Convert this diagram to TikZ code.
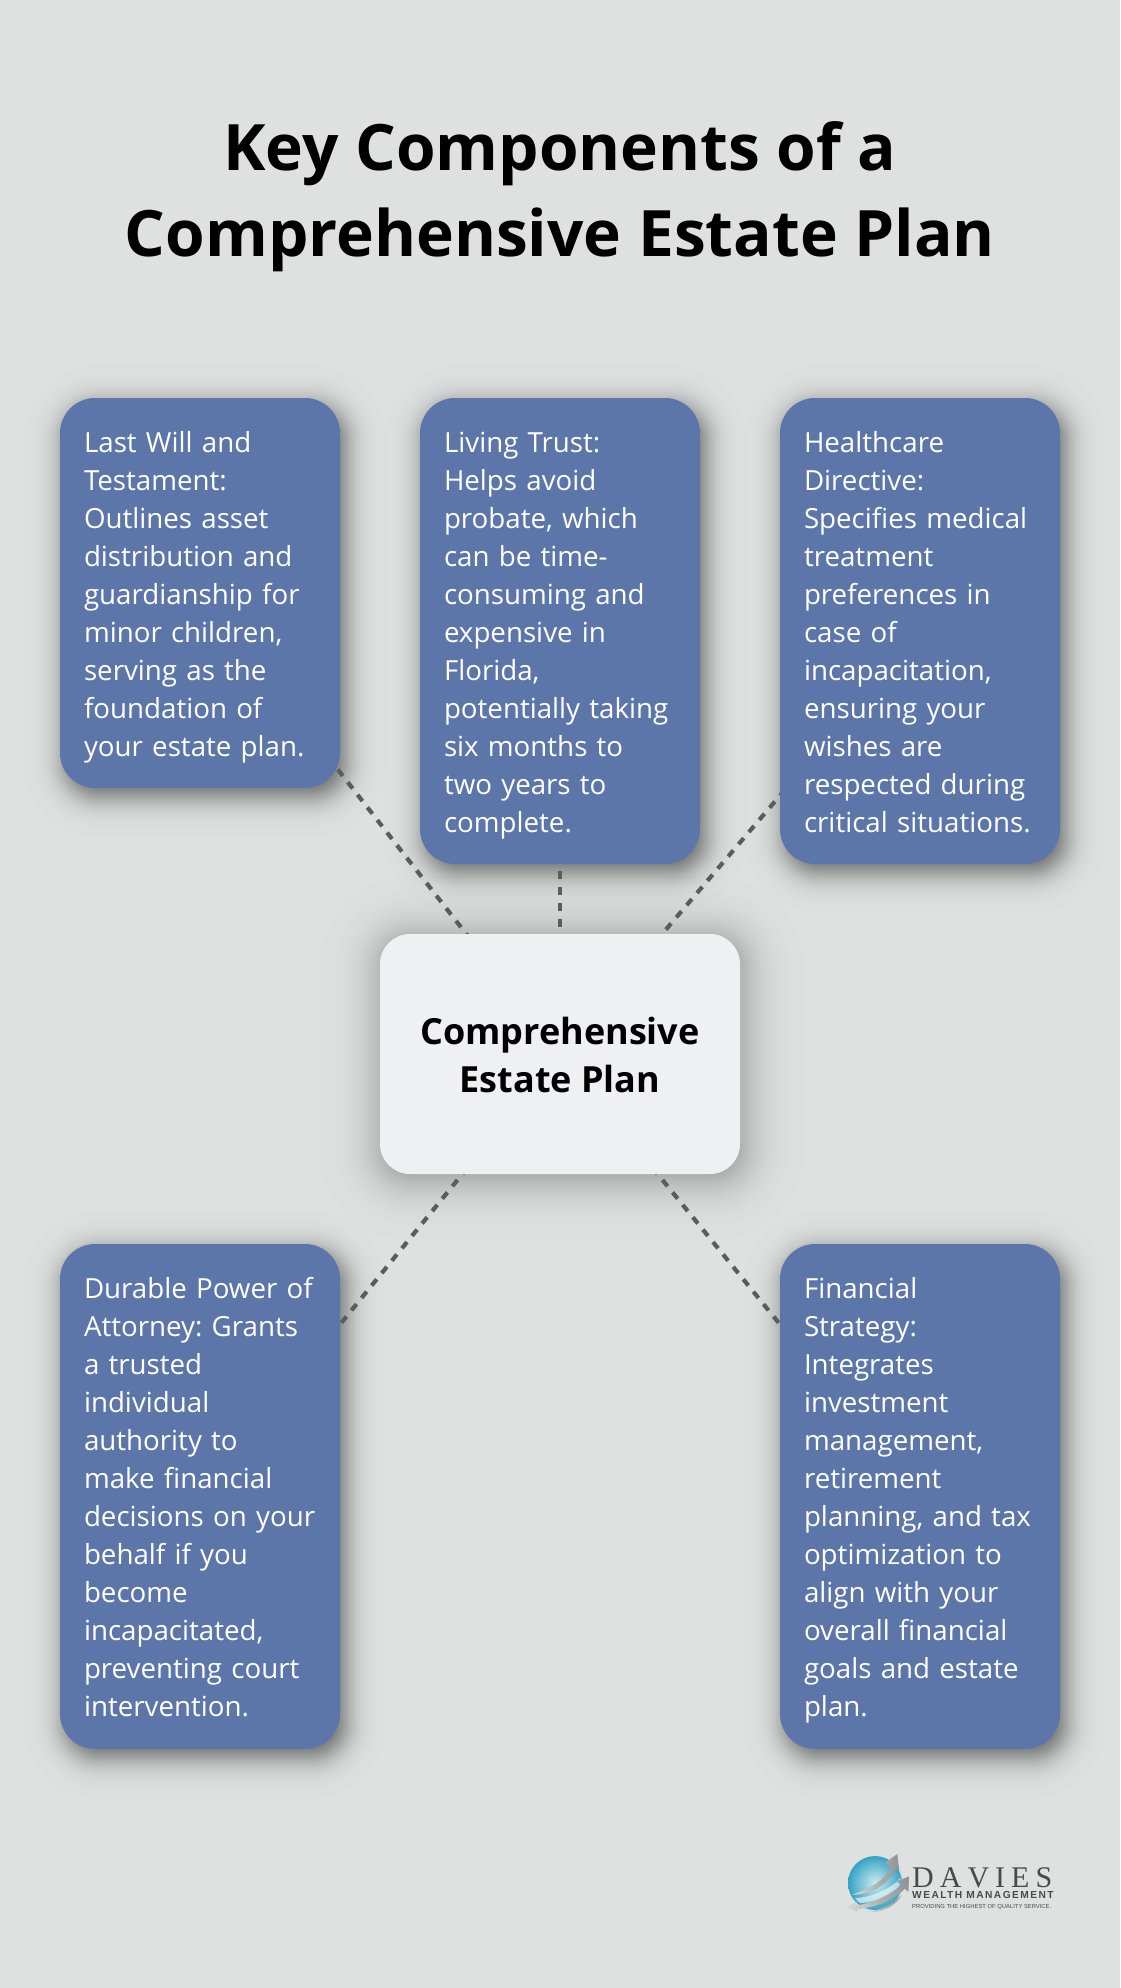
\documentclass[tikz,border=0pt]{standalone}
\usepackage{fontspec}
\setmainfont{Open Sans}
\newfontfamily\logoserif{Liberation Serif}
\newfontfamily\logosans[LetterSpace=14]{Liberation Sans}
\newfontfamily\logotag{Liberation Sans}
\definecolor{pagebg}{HTML}{DFE1E1}
\definecolor{boxblue}{HTML}{5D76A9}
\definecolor{boxlight}{HTML}{EFF0F2}
\definecolor{conncol}{HTML}{5C5C5C}
\definecolor{logogray}{HTML}{4A4A4A}
\definecolor{bandlight}{HTML}{D6D8DA}
\definecolor{banddark}{HTML}{8F9294}
\definecolor{globein}{HTML}{CDEBF1}
\definecolor{globeout}{HTML}{35A3C4}
\pgfdeclarelayer{under}
\pgfdeclarelayer{lines}
\pgfsetlayers{under,lines,main}
\tikzset{
  bluebox/.style={rectangle,fill=boxblue,text=white,rounded corners=35pt,inner xsep=24pt,inner ysep=0pt,
    minimum width=280pt,text width=232pt,align=left,font=\frenchspacing\fontsize{27.7}{38}\selectfont},
  hubbox/.style={rectangle,fill=boxlight,text=black,rounded corners=30pt,inner sep=0pt,
    minimum width=360pt,minimum height=240pt,align=center,font=\fontsize{36}{48}\selectfont\bfseries},
  titletext/.style={inner sep=0pt,align=center,text=black,font=\fontsize{64}{86}\selectfont\bfseries},
  conn/.style={draw=conncol,line width=4.2pt,dash pattern=on 8pt off 8pt},
  band/.style={left color=bandlight,right color=banddark,draw=none}
}
\newcommand{\bt}[1]{\rule{0pt}{31.5pt}#1\rule[-8.6pt]{0pt}{8.6pt}}
\newcommand{\hb}[1]{\rule{0pt}{38pt}#1\rule[-10pt]{0pt}{10pt}}
% centre x, centre y, half width, half height, radius, spread, layer opacity, dx, dy
\newcommand{\shadowlayers}{64}
\newcommand{\softshadow}[9]{%
  \foreach \ii in {1,...,\shadowlayers}{%
    \pgfmathsetmacro{\pp}{(\ii-0.5)/\shadowlayers}
    \pgfmathsetmacro{\ee}{#6*ln(\pp/(1-\pp))}
    \pgfmathsetmacro{\rr}{max(#5+\ee,0.1)}
    \fill[black,opacity=#7,rounded corners=\rr pt]
      (#1+#8-#3-\ee,#2+#9-#4-\ee) rectangle (#1+#8+#3+\ee,#2+#9+#4+\ee);
  }%
}
\begin{document}
\begin{tikzpicture}[x=1pt,y=-1pt]
\useasboundingbox (0,0) rectangle (1120,1988);
\begin{pgfonlayer}{under}
  \fill[pagebg] (0,0) rectangle (1120,1988);
  \softshadow{200}{593}{140}{195}{35}{8.5}{0.0068}{5}{8}
  \softshadow{560}{631}{140}{233}{35}{8.5}{0.0068}{5}{8}
  \softshadow{920}{631}{140}{233}{35}{8.5}{0.0068}{5}{8}
  \softshadow{200}{1496.5}{140}{252.5}{35}{8.5}{0.0068}{5}{8}
  \softshadow{920}{1496.5}{140}{252.5}{35}{8.5}{0.0068}{5}{8}
  \renewcommand{\shadowlayers}{44}
  \softshadow{560}{1054}{180}{120}{30}{14}{0.0065}{2}{4}
\end{pgfonlayer}

\node[titletext] (title) at (560,197) {Key Components of a\\Comprehensive Estate Plan};

\node[bluebox,minimum height=390pt] (will) at (200,593) {\bt{Last Will and\\Testament:\\Outlines asset\\distribution and\\guardianship for\\minor children,\\serving as the\\foundation of\\your estate plan.}};
\node[bluebox,minimum height=466pt] (trust) at (560,631) {\bt{Living Trust:\\Helps avoid\\probate, which\\can be time-\\consuming and\\expensive in\\Florida,\\potentially taking\\six months to\\two years to\\complete.}};
\node[bluebox,minimum height=466pt] (health) at (920,631) {\bt{Healthcare\\Directive:\\Specifies medical\\treatment\\preferences in\\case of\\incapacitation,\\ensuring your\\wishes are\\respected during\\critical situations.}};
\node[hubbox] (hub) at (560,1054) {\hb{Comprehensive\\Estate Plan}};
\node[bluebox,minimum height=505pt] (power) at (200,1496.5) {\bt{Durable Power of\\Attorney: Grants\\a trusted\\individual\\authority to\\make financial\\decisions on your\\behalf if you\\become\\incapacitated,\\preventing court\\intervention.}};
\node[bluebox,minimum height=505pt] (finance) at (920,1496.5) {\bt{Financial\\Strategy:\\Integrates\\investment\\management,\\retirement\\planning, and tax\\optimization to\\align with your\\overall financial\\goals and estate\\plan.}};

\begin{pgfonlayer}{lines}
  \draw[conn] (will.center) -- (hub.center);
  \draw[conn] (trust.center) -- (hub.center);
  \draw[conn] (health.center) -- (hub.center);
  \draw[conn] (power.center) -- (hub.center);
  \draw[conn] (finance.center) -- (hub.center);
\end{pgfonlayer}

% logo
\shade[inner color=globein,outer color=globeout] (875,1883) circle (27);
\begin{scope}[shift={(840,1848)},scale=1/3]
  \fill[white,opacity=.6] (45,150) .. controls (90,150) and (160,120) .. (180,90) -- (185,105) .. controls (160,140) and (100,165) .. (60,165) -- cycle;
  \shade[band] (35,140) .. controls (75,128) and (125,105) .. (153,60) -- (135,44) -- (172,18) -- (178,72) -- (167,62) .. controls (140,118) and (85,140) .. (35,140) -- cycle;
  \shade[band] (50,172) .. controls (100,165) and (150,140) .. (184,112) -- (170,100) -- (207,85) -- (205,132) -- (194,122) .. controls (160,160) and (100,178) .. (52,184) -- (52,192) -- (20,178) -- (50,160) -- cycle;
  \shade[band] (75,192) .. controls (115,190) and (160,170) .. (185,140) .. controls (170,172) and (125,198) .. (75,192) -- cycle;
\end{scope}
\node[inner sep=0pt,anchor=base west,text=logogray,font=\fontsize{30}{30}\selectfont\logoserif] (davies) at (912,1887) {D\hspace{6pt}A\hspace{6pt}V\hspace{6pt}I\hspace{6pt}E\hspace{6pt}S};
\node[inner sep=0pt,anchor=base west,text=logogray,font=\fontsize{10.2}{10}\selectfont\logosans\bfseries] (wealth) at (912,1898) {WEALTH MANAGEMENT};
\node[inner sep=0pt,anchor=base west,text=logogray,font=\fontsize{5.85}{7}\selectfont\logotag] (tagline) at (912,1908) {PROVIDING THE HIGHEST OF QUALITY SERVICE.};
\end{tikzpicture}
\end{document}
